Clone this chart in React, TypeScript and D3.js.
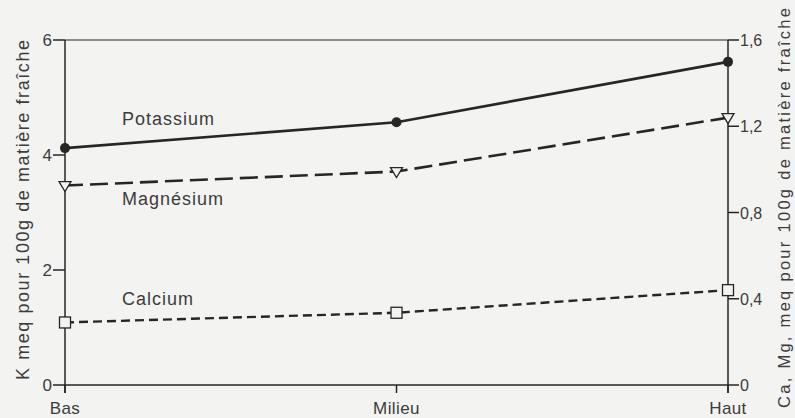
import React from "react";
import * as d3 from "d3";

const categories = ["Bas", "Milieu", "Haut"];
const potassium = [4.12, 4.57, 5.62];
const magnesium = [0.925, 0.99, 1.24];
const calcium = [0.29, 0.335, 0.44];
const leftTicks = [0, 2, 4, 6];
const rightTicks = [0, 0.4, 0.8, 1.2, 1.6];
const seriesLabels = ["Potassium", "Magnésium", "Calcium"];
const leftTitle = "K  meq pour 100g de matière fraîche";
const rightTitle = "Ca, Mg, meq pour 100g de matière fraîche";

const W = 795;
const H = 418;
const left = 65;
const right = 728;
const top = 40;
const bottom = 385;
const font = "'Liberation Sans', Arial, Helvetica, sans-serif";
const ink = "#262626";
const txt = "#3c3c3c";
const bg = "#f3f3f1";

export default function App() {
  const x = d3.scalePoint<string>().domain(categories).range([left, right]);
  const yL = d3.scaleLinear().domain([0, 6]).range([bottom, top]);
  const yR = d3.scaleLinear().domain([0, 1.6]).range([bottom, top]);
  const line = (vals: number[], y: d3.ScaleLinear<number, number>) =>
    d3.line<number>().x((_, i) => x(categories[i])!).y((v) => y(v))(vals) || "";
  const fmt = (v: number) => (v === 0 ? "0" : d3.format(".1f")(v).replace(".", ","));

  return (
    <svg width={W} height={H} style={{ position: "absolute", left: 0, top: 0, background: bg }}>
      <rect x={0} y={0} width={W} height={H} fill={bg} />
      {/* frame */}
      <line x1={left} x2={left} y1={top} y2={bottom + 8} stroke={ink} strokeWidth={1.5} />
      <line x1={right} x2={right} y1={top} y2={bottom + 8} stroke={ink} strokeWidth={1.5} />
      <line x1={left} x2={right} y1={top} y2={top} stroke={ink} strokeWidth={1.2} />
      <line x1={left} x2={right} y1={bottom} y2={bottom} stroke={ink} strokeWidth={1.5} />
      {/* bottom ticks */}
      {categories.map((c) => (
        <g key={c}>
          <line x1={x(c)} x2={x(c)} y1={bottom} y2={bottom + 8} stroke={ink} strokeWidth={1.5} />
          <text x={x(c)} y={414} textAnchor="middle" fontFamily={font} fontSize={17} letterSpacing={0.4} fill={txt}>{c}</text>
        </g>
      ))}
      {/* left ticks */}
      {leftTicks.map((t) => (
        <g key={t}>
          <line x1={left - 12} x2={left} y1={yL(t)} y2={yL(t)} stroke={ink} strokeWidth={1.5} />
          <text x={left - 13} y={yL(t) + 6} textAnchor="end" fontFamily={font} fontSize={17} fill={txt}>{t}</text>
        </g>
      ))}
      {/* right ticks */}
      {rightTicks.map((t) => (
        <g key={t}>
          <line x1={right} x2={right + 11} y1={yR(t)} y2={yR(t)} stroke={ink} strokeWidth={1.5} />
          <text x={right + 12} y={yR(t) + 6} textAnchor="start" fontFamily={font} fontSize={16} fill={txt}>{fmt(t)}</text>
        </g>
      ))}
      {/* axis titles */}
      <text transform={`translate(29,380) rotate(-90)`} textAnchor="start" fontFamily={font} fontSize={18} textLength={340} lengthAdjust="spacing" fill={txt}>
        {leftTitle}
      </text>
      <text transform={`translate(790,408) rotate(-90)`} textAnchor="start" fontFamily={font} fontSize={16.5} textLength={400} lengthAdjust="spacing" fill={txt}>
        {rightTitle}
      </text>
      {/* series */}
      <path d={line(potassium, yL)} fill="none" stroke={ink} strokeWidth={2.6} />
      <path d={line(magnesium, yR)} fill="none" stroke={ink} strokeWidth={2.6} strokeDasharray="18 7" />
      <path d={line(calcium, yR)} fill="none" stroke={ink} strokeWidth={2.4} strokeDasharray="9 5" />
      {potassium.map((v, i) => (
        <circle key={"k" + i} cx={x(categories[i])} cy={yL(v)} r={5} fill={ink} />
      ))}
      {magnesium.map((v, i) => {
        const cx = x(categories[i])!;
        const cy = yR(v);
        return (
          <path key={"m" + i} d={`M${cx - 6},${cy - 4} L${cx + 6},${cy - 4} L${cx},${cy + 6} Z`} fill={bg} stroke={ink} strokeWidth={1.3} />
        );
      })}
      {calcium.map((v, i) => {
        const cx = x(categories[i])!;
        const cy = yR(v);
        return <rect key={"c" + i} x={cx - 5.5} y={cy - 5.5} width={11} height={11} fill={bg} stroke={ink} strokeWidth={1.3} />;
      })}
      {/* labels */}
      <text x={122} y={125} fontFamily={font} fontSize={18} letterSpacing={1} fill={txt}>{seriesLabels[0]}</text>
      <text x={122} y={205} fontFamily={font} fontSize={18} letterSpacing={1} fill={txt}>{seriesLabels[1]}</text>
      <text x={122} y={305} fontFamily={font} fontSize={18} letterSpacing={1} fill={txt}>{seriesLabels[2]}</text>
    </svg>
  );
}
